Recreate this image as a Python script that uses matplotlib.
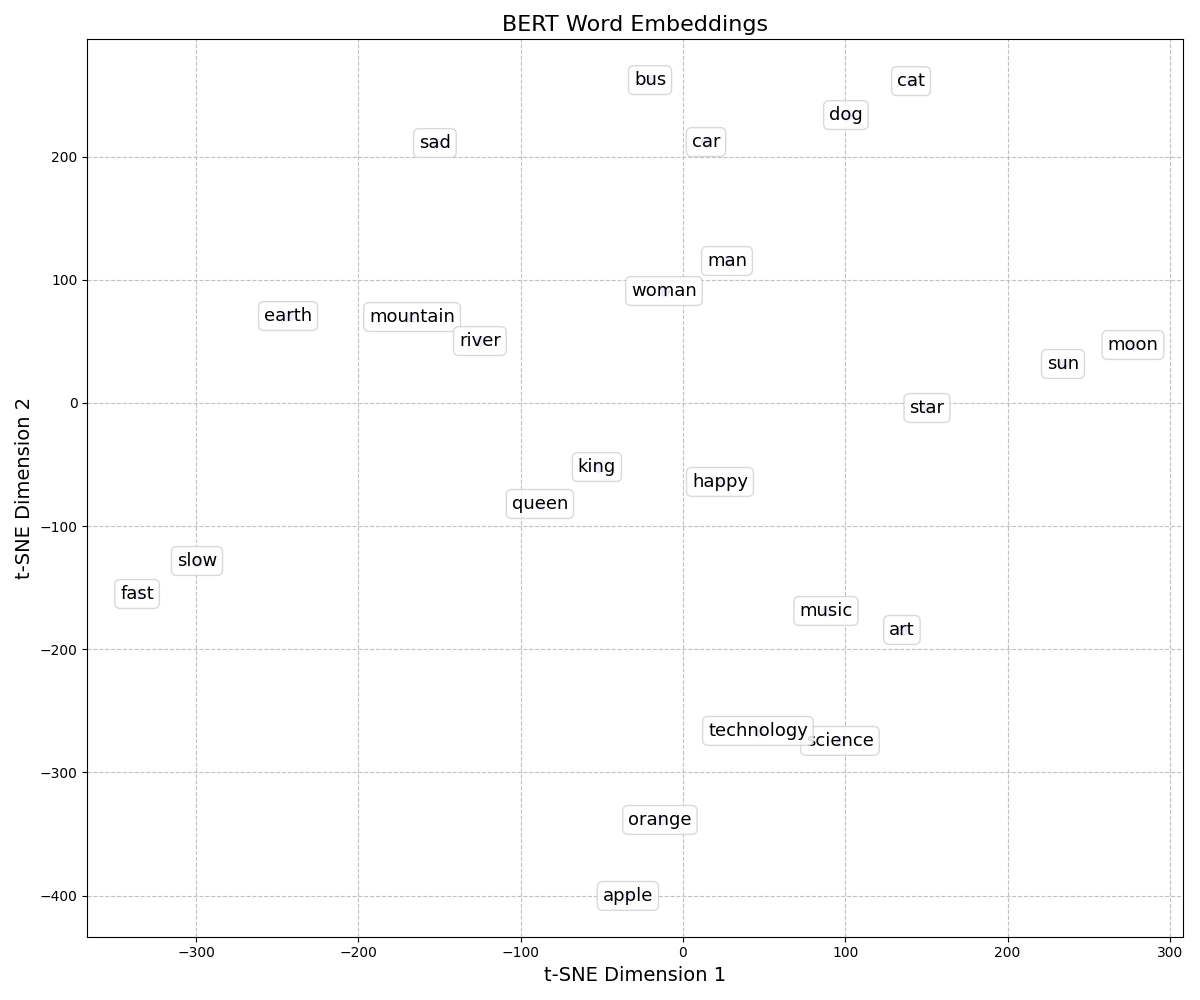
import matplotlib
matplotlib.use("Agg")
import matplotlib.pyplot as plt

# word positions in t-SNE space
words = ["bus", "cat", "dog", "sad", "car", "man", "woman", "earth", "mountain",
         "river", "moon", "sun", "star", "king", "happy", "queen", "slow", "fast",
         "music", "art", "science", "technology", "orange", "apple"]
x_vals = [-20.3, 140.5, 100.4, -152.8, 14.2, 27.1, -11.7, -243.3, -166.9,
          -125.1, 277.2, 234.1, 150.3, -53.0, 22.8, -88.1, -299.4, -336.3,
          88.1, 134.9, 96.7, 46.2, -14.2, -33.9]
y_vals = [262.2, 261.4, 233.8, 211.1, 211.9, 115.3, 90.9, 70.6, 69.8,
          50.3, 47.1, 31.7, -4.1, -52.0, -64.1, -82.0, -128.3, -155.1,
          -168.9, -184.3, -274.4, -266.3, -338.6, -400.3]

fig, ax = plt.subplots(figsize=(12, 10), dpi=100)
ax.scatter(x_vals, y_vals, s=50, color="#5a5ad0", alpha=0.6, zorder=2)

for w, x, y in zip(words, x_vals, y_vals):
    ax.text(x, y, w, fontsize=13, ha="center", va="center", zorder=3,
            bbox=dict(boxstyle="round,pad=0.3", facecolor="white",
                      edgecolor="lightgray", alpha=0.85))

ax.set_title("BERT Word Embeddings", fontsize=16)
ax.set_xlabel("t-SNE Dimension 1", fontsize=14)
ax.set_ylabel("t-SNE Dimension 2", fontsize=14)
ax.grid(True, linestyle="--", alpha=0.9, color="#bbbbbb")
ax.set_axisbelow(True)

fig.tight_layout()
fig.savefig("out.png", dpi=100)
